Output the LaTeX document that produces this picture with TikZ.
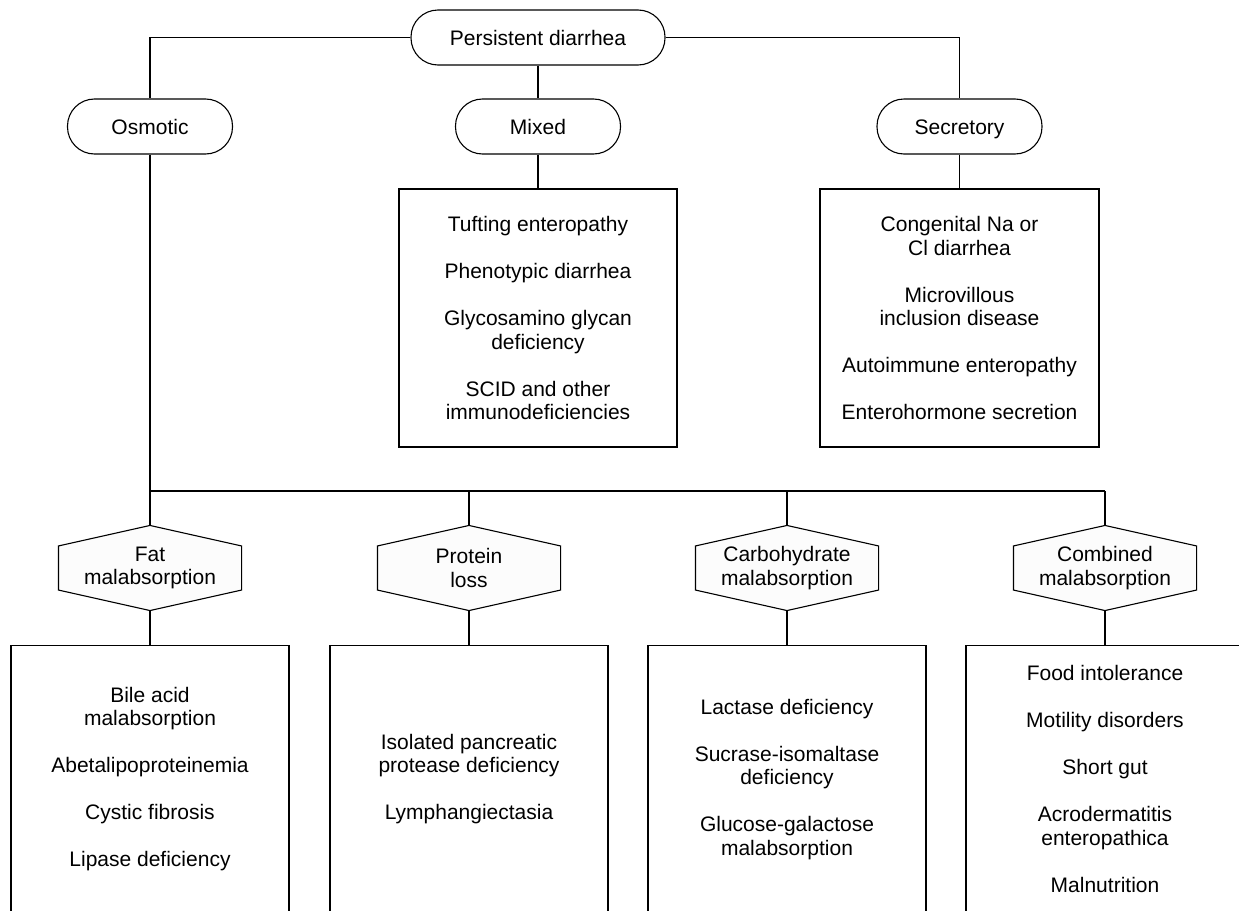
\documentclass[tikz,border=0pt]{standalone}
\usepackage{fontspec}
\setmainfont{Liberation Sans}
\usepackage{tikz}
\usetikzlibrary{positioning,backgrounds}
\definecolor{hexfill}{RGB}{252,252,252}

\begin{document}
\begin{tikzpicture}[x=1pt,y=-1pt,line width=1.1pt,
 font=\fontsize{21}{23.5}\selectfont,
 pill/.style={draw,rounded corners=27pt,minimum height=55pt,minimum width=165pt,text height=15pt,text depth=0pt,align=center},
 hx/.style={minimum width=182pt,minimum height=84pt,inner sep=0pt,align=center},
 bx/.style={draw,minimum width=278pt,minimum height=258pt,align=center},
 bxl/.style={bx,minimum height=268pt,below=34pt of #1}]
 \useasboundingbox (0,0) rectangle (1239,910);
 \clip (0,0) rectangle (1239,910);
 % top level
 \node[pill,minimum width=254pt](pd) at (538,37.5){Persistent diarrhea};
 \node[pill](osm) at (150,126.5){Osmotic};
 \node[pill](mix) at (538,126.5){Mixed};
 \node[pill](sec) at (959.5,126.5){Secretory};
 \node[bx](bmix) at (538,318){Tufting enteropathy\\[23.5pt]Phenotypic diarrhea\\[23.5pt]Glycosamino glycan\\deficiency\\[23.5pt]SCID and other\\immunodeficiencies};
 \node[bx,minimum width=279pt](bsec) at (959.5,318){Congenital Na or\\Cl diarrhea\\[23.5pt]Microvillous\\inclusion disease\\[23.5pt]Autoimmune enteropathy\\[23.5pt]Enterohormone secretion};
 \draw (pd.west) -| (osm.north);
 \draw (pd.east) -| (sec.north);
 \draw (pd.south) -- (mix.north);
 \draw (mix.south) -- (bmix.north);
 \draw (sec.south) -- (bsec.north);
 % osmotic branches
 \node[hx](fat) at (150,568){Fat\\malabsorption};
 \node[hx](prot) at (469,568){Protein\\loss};
 \node[hx](carb) at (787,568){Carbohydrate\\malabsorption};
 \node[hx](comb) at (1105,568){Combined\\malabsorption};
 \begin{scope}[on background layer]
  \foreach \n in {fat,prot,carb,comb}
   \draw[line width=1.1pt,fill=hexfill] (\n.north) -- ([yshift=-20.5pt]\n.north east) -- ([yshift=20.5pt]\n.south east)
    -- (\n.south) -- ([yshift=20.5pt]\n.south west) -- ([yshift=-20.5pt]\n.north west) -- cycle;
 \end{scope}
 \node[bxl=fat](bfat){Bile acid\\malabsorption\\[23.5pt]Abetalipoproteinemia\\[23.5pt]Cystic fibrosis\\[23.5pt]Lipase deficiency};
 \node[bxl=prot](bprot){Isolated pancreatic\\protease deficiency\\[23.5pt]Lymphangiectasia};
 \node[bxl=carb](bcarb){Lactase deficiency\\[23.5pt]Sucrase-isomaltase\\deficiency\\[23.5pt]Glucose-galactose\\malabsorption};
 \node[bxl=comb](bcomb){Food intolerance\\[23.5pt]Motility disorders\\[23.5pt]Short gut\\[23.5pt]Acrodermatitis\\enteropathica\\[23.5pt]Malnutrition};
 \coordinate (busl) at (150,491);
 \draw (osm.south) -- (fat.north);
 \draw (busl) -- (comb.north |- busl);
 \foreach \n in {prot,carb,comb}
  \draw (\n.north |- busl) -- (\n.north);
 \foreach \n in {fat,prot,carb,comb}
  \draw (\n.south) -- (b\n.north);
\end{tikzpicture}
\end{document}
